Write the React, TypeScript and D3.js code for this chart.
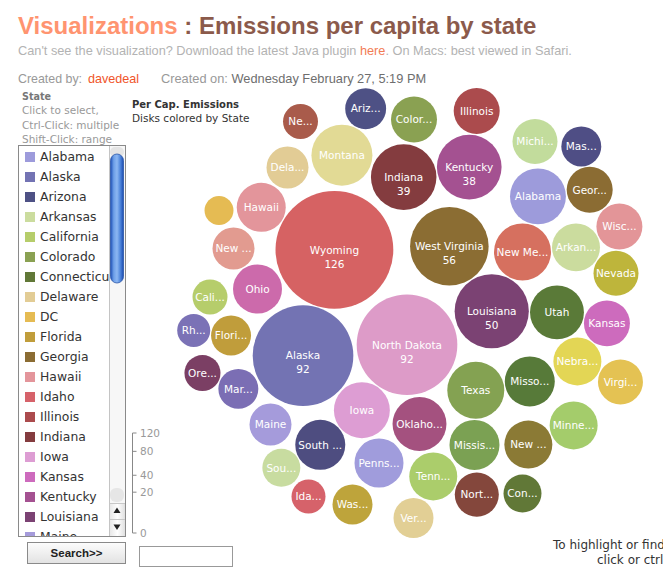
import React, { useMemo } from "react";
import * as d3 from "d3";

// ---------- data ----------
const states = [
  "Alabama", "Alaska", "Arizona", "Arkansas", "California", "Colorado", "Connecticut",
  "Delaware", "DC", "Florida", "Georgia", "Hawaii", "Idaho", "Illinois", "Indiana",
  "Iowa", "Kansas", "Kentucky", "Louisiana", "Maine", "Maryland", "Massachusetts",
  "Michigan", "Minnesota", "Mississippi", "Missouri", "Montana", "Nebraska", "Nevada",
  "New Hampshire", "New Jersey", "New Mexico", "New York", "North Carolina",
  "North Dakota", "Ohio", "Oklahoma", "Oregon", "Pennsylvania", "Rhode Island",
  "South Carolina", "South Dakota", "Tennessee", "Texas", "Utah", "Vermont",
  "Virginia", "Washington", "West Virginia", "Wisconsin", "Wyoming",
];

const emissions = [
  28.4, 92, 15.2, 20.9, 11.1, 19.2, 13.1,
  16, 7.6, 14.5, 19.2, 21.8, 10.5, 19.2, 39,
  28.4, 19.2, 38, 50, 16, 14.5, 14.5,
  18.4, 20.9, 22.7, 22.7, 33.8, 20.9, 18.4,
  20.9, 16, 29.5, 11.1, 17.6,
  92, 21.8, 26.4, 11.8, 21.8, 9.9,
  22.7, 13.1, 20.9, 29.5, 26.4, 14.5,
  18.4, 14.5, 56, 19.2, 126,
];

// labels as they appear inside the disks (truncated to fit)
const diskLabels = [
  "Alabama", "Alaska", "Ariz...", "Arkan...", "Cali...", "Color...", "Con...",
  "Dela...", "", "Flori...", "Geor...", "Hawaii", "Ida...", "Illinois", "Indiana",
  "Iowa", "Kansas", "Kentucky", "Louisiana", "Maine", "Mar...", "Mas...",
  "Michi...", "Minne...", "Missis...", "Misso...", "Montana", "Nebra...", "Nevada",
  "New ...", "New ...", "New Me...", "Ne...", "Nort...",
  "North Dakota", "Ohio", "Oklaho...", "Ore...", "Penns...", "Rh...",
  "South ...", "Sou...", "Tenn...", "Texas", "Utah", "Ver...",
  "Virgi...", "Was...", "West Virginia", "Wisc...", "Wyoming",
];

// reference packing layout (offsets from the cluster centre), relaxed by d3-force
const layoutX = [
  128.5, -106.5, -44.5, 165.5, -200, 4, 112.5,
  -122.5, -191, -179.5, 178.5, -148.5, -101.5, 66.5, -5.5,
  -48.5, 195.5, 58.5, 82.5, -139.5, -172.5, 171.5,
  125, 163.5, 64.5, 119.5, -68, 168.5, 205.5,
  118.5, -176.5, 113.5, -109.5, 66.5,
  -3.5, -152.5, 9.5, -206.5, -31, -215.5,
  -88.5, -126.5, 23.5, 66, 146.5, 3.5,
  209.5, -57.5, 39.5, 208.5, -76,
];
const layoutY = [
  -122.5, 34, -211, -72.5, -23, -200.5, 173.5,
  -152.5, -109.5, 15.5, -130.5, -112.5, 176.5, -207.5, -143,
  89.5, 3.5, -153.5, -9.5, 104.5, 68.5, -172.5,
  -178.5, 105.5, 124.5, 61.5, -165, 41.5, -47,
  124.5, -71.5, -68.5, -198.5, 174.5,
  25.5, -31, 104, 53.5, 143, 10.5,
  123.5, 146.5, 156.5, 70.5, -7.5, 198,
  61.5, 184.5, -73.5, -93.5, -69,
];

const legendTicks = [0, 20, 40, 80, 120];
const visibleRows = 20;

// ---------- styles ----------
const palette = [
  "#9d9bdb", "#7373b3", "#4e5185", "#cbdc9e", "#b6cd6b", "#8aa152", "#617837",
  "#e2cc95", "#e5bb53", "#c09d3b", "#8b6c33", "#e3959b", "#d6626a", "#ab4b4d", "#843c3f",
  "#dd9dd3", "#cd6bbd", "#a45191", "#7b4273", "#a59bdb", "#7b6eb4", "#4f4e85",
  "#c2dc9c", "#a4cc6b", "#7ba153", "#577a39", "#e2da95", "#e3d655", "#beb53b",
  "#8b7a35", "#e29b90", "#d6705f", "#a95b4b", "#84473c",
  "#dd9bc8", "#cc6aab", "#a4517f", "#7b3f64", "#a09cdc", "#7b72b6",
  "#4e4d80", "#c8dca0", "#abcd6b", "#84a252", "#5a7a38", "#e2cf95",
  "#e4c253", "#bea43b", "#8b6d33", "#e39598", "#d66263",
];

const W = 663;
const H = 568;
const SANS = "'DejaVu Sans', Verdana, sans-serif";
const HELV = "'Liberation Sans', Arial, Helvetica, sans-serif";

type Node = {
  name: string; value: number; label: string; r: number;
  tx: number; ty: number; x: number; y: number;
};

export default function App() {
  const color = useMemo(() => d3.scaleOrdinal<string, string>().domain(states).range(palette), []);

  const nodes = useMemo(() => {
    const rScale = d3.scaleSqrt().domain([0, 126]).range([0, 58.9]);
    const xScale = d3.scaleLinear().domain([-250, 250]).range([160, 660]);
    const yScale = d3.scaleLinear().domain([-250, 250]).range([70, 570]);
    const ns: Node[] = states.map((s, i) => {
      const tx = xScale(layoutX[i]);
      const ty = yScale(layoutY[i]);
      return { name: s, value: emissions[i], label: diskLabels[i], r: rScale(emissions[i]), tx, ty, x: tx, y: ty };
    });
    const sim = d3
      .forceSimulation(ns as any)
      .force("x", d3.forceX((d: any) => d.tx).strength(0.5))
      .force("y", d3.forceY((d: any) => d.ty).strength(0.5))
      .force("collide", d3.forceCollide((d: any) => d.r + 0.6).iterations(3))
      .stop();
    for (let i = 0; i < 150; i++) sim.tick();
    return ns;
  }, []);

  const legendScale = useMemo(() => d3.scaleSqrt().domain([0, 120]).range([533, 433]), []);

  // list panel
  const listTop = 145;
  const listBottom = 537;
  const rowY = (i: number) => 157 + i * 20;

  return (
    <svg
      width={W}
      height={H}
      style={{ position: "absolute", left: 0, top: 0, background: "#fff" }}
    >
      <defs>
        <linearGradient id="thumb" x1="0" x2="1" y1="0" y2="0">
          <stop offset="0%" stopColor="#1d4fb5" />
          <stop offset="25%" stopColor="#6d9fe8" />
          <stop offset="50%" stopColor="#8cb7f2" />
          <stop offset="75%" stopColor="#4f86dc" />
          <stop offset="100%" stopColor="#1a4aaf" />
        </linearGradient>
        <linearGradient id="btn" x1="0" x2="0" y1="0" y2="1">
          <stop offset="0%" stopColor="#fdfdfd" />
          <stop offset="100%" stopColor="#e2e2e2" />
        </linearGradient>
        <linearGradient id="arrowBg" x1="0" x2="1" y1="0" y2="0">
          <stop offset="0%" stopColor="#e8e8e8" />
          <stop offset="50%" stopColor="#ffffff" />
          <stop offset="100%" stopColor="#e0e0e0" />
        </linearGradient>
        <clipPath id="listClip">
          <rect x={19} y={listTop + 1} width={90} height={listBottom - listTop - 2} />
        </clipPath>
      </defs>

      {/* header */}
      <text x={18} y={34} fontFamily={HELV} fontWeight="bold" fontSize={24} style={{ whiteSpace: "pre" }}>
        <tspan fill="#ff9470">Visualizations</tspan>
        <tspan fill="#8b5a4b"> : Emissions per capita by state</tspan>
      </text>
      <text x={18} y={55} fontFamily={HELV} fontSize={12.75} fill="#b3b3b3">
        <tspan>Can't see the visualization? Download the latest Java plugin </tspan>
        <tspan fill="#f27c55">here</tspan>
        <tspan>. On Macs: best viewed in Safari.</tspan>
      </text>
      <text x={18} y={83} fontFamily={HELV} fontSize={12.4} fill="#999">Created by:</text>
      <text x={88} y={83} fontFamily={HELV} fontSize={12.6} fill="#f0552a">davedeal</text>
      <text x={161} y={83} fontFamily={HELV} fontSize={12.8} fill="#999">
        <tspan>Created on: </tspan>
        <tspan fill="#6e6e6e">Wednesday February 27, 5:19 PM</tspan>
      </text>

      {/* left panel captions */}
      <g fontFamily={SANS}>
        <text x={22} y={100} fontSize={9.6} fontWeight="bold" fill="#777">State</text>
        <text x={22} y={114} fontSize={10.5} fill="#999">Click to select,</text>
        <text x={22} y={129} fontSize={10.5} fill="#999">Ctrl-Click: multiple</text>
        <text x={22} y={143} fontSize={10.5} fill="#999">Shift-Click: range</text>
        <text x={132} y={108} fontSize={10} fontWeight="bold" fill="#333">Per Cap. Emissions</text>
        <text x={132} y={122} fontSize={10.5} fill="#333">Disks colored by State</text>
      </g>

      {/* state list (rows that fit in the list box) */}
      <rect x={18.5} y={listTop + 0.5} width={107} height={listBottom - listTop - 1} fill="#fff" stroke="#8a8a8a" />
      <g clipPath="url(#listClip)">
        {states.slice(0, visibleRows).map((s, i) => (
          <g key={s}>
            <rect x={25} y={rowY(i) - 5} width={10} height={10} fill={color(s)} />
            <text x={40} y={rowY(i)} dy="0.36em" fontFamily={SANS} fontSize={12.4} fill="#333">{s}</text>
          </g>
        ))}
      </g>
      {/* scrollbar */}
      <g>
        <rect x={109} y={listTop + 1} width={16} height={listBottom - listTop - 2} fill="#f7f7f7" />
        <line x1={109.5} x2={109.5} y1={listTop + 1} y2={listBottom - 1} stroke="#c4c4c4" />
        <rect x={110} y={listTop + 2} width={14} height={10} rx={5} fill="#e4e4e4" />
        <rect x={110.5} y={154} width={13} height={129} rx={6.5} fill="url(#thumb)" stroke="#2a55a8" strokeWidth={0.8} />
        <rect x={110} y={488} width={14} height={14} rx={6} fill="#e6e6e6" />
        <rect x={110} y={503} width={15} height={33} fill="url(#arrowBg)" />
        <line x1={110} x2={125} y1={503.5} y2={503.5} stroke="#c8c8c8" />
        <line x1={110} x2={125} y1={519.5} y2={519.5} stroke="#c8c8c8" />
        <path d="M117,507.5 L120.5,513 L113.5,513 Z" fill="#222" />
        <path d="M113.5,524.5 L120.5,524.5 L117,530 Z" fill="#222" />
      </g>

      {/* search controls */}
      <rect x={27.5} y={542.5} width={98} height={21} fill="url(#btn)" stroke="#8a8a8a" />
      <text x={76.5} y={557} textAnchor="middle" fontFamily={HELV} fontWeight="bold" fontSize={11.5} fill="#222">Search&gt;&gt;</text>
      <rect x={139.5} y={546.5} width={93} height={20} fill="#fff" stroke="#999" />

      {/* size legend */}
      <g fontFamily={SANS}>
        <line x1={132.5} x2={132.5} y1={legendScale(120)} y2={legendScale(0)} stroke="#888" />
        {legendTicks.map((t) => (
          <g key={t}>
            <line x1={132.5} x2={136.5} y1={legendScale(t)} y2={legendScale(t)} stroke="#888" />
            <text x={140} y={legendScale(t)} dy="0.36em" fontSize={10.5} fill="#999">{t}</text>
          </g>
        ))}
      </g>

      {/* disks */}
      <g fontFamily={SANS}>
        {nodes.map((n) => (
          <g key={n.name} transform={`translate(${n.x},${n.y})`}>
            <circle r={n.r} fill={color(n.name)} />
            {n.label && (
              <text textAnchor="middle" dy="0.36em" fontSize={10.5} fill="#fff">{n.label}</text>
            )}
            {n.value >= 35 && (
              <text textAnchor="middle" y={14} dy="0.36em" fontSize={10.5} fill="#fff">
                {d3.format("d")(Math.round(n.value))}
              </text>
            )}
          </g>
        ))}
      </g>

      {/* hint text, cut at the right edge as in the reference */}
      <g fontFamily={SANS} fontSize={12} fill="#333">
        <text x={553} y={549}>To highlight or find an item,</text>
        <text x={597} y={564}>click or ctrl-click in the list</text>
      </g>
    </svg>
  );
}
